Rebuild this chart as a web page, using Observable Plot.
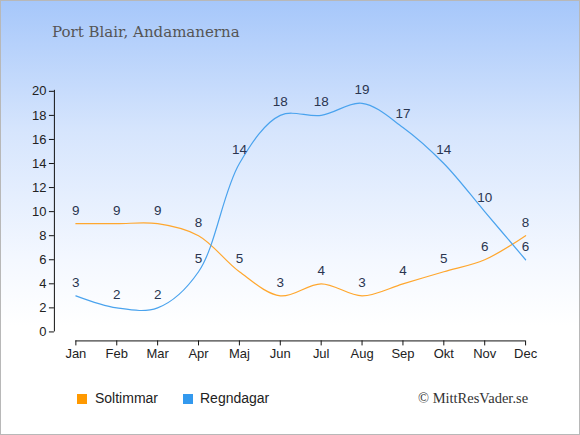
<!DOCTYPE html>
<html>
<head>
<meta charset="utf-8">
<script src="https://cdn.jsdelivr.net/npm/d3@7"></script>
<script src="https://cdn.jsdelivr.net/npm/@observablehq/plot@0.6"></script>
<style>
  html, body { margin: 0; padding: 0; }
  #wrap {
    position: relative; width: 580px; height: 435px; box-sizing: border-box;
    border: 1px solid #b8b8b8;
    background: linear-gradient(to bottom, #a6c7fa 0%, #d6e5fd 30%, #f4f8ff 60%, #ffffff 75%, #ffffff 100%);
    overflow: hidden;
  }
  #title {
    position: absolute; left: 51px; top: 22px;
    font-family: "DejaVu Serif", "Liberation Serif", serif; font-size: 15px; color: #555;
  }
  #chart { position: absolute; left: -1px; top: -1px; }
  #legend {
    position: absolute; left: 0; top: 388px; width: 580px; height: 20px;
    font-family: "Liberation Sans", Arial, sans-serif; font-size: 14px; color: #222;
  }
  .sw { position: absolute; width: 10px; height: 10px; top: 5px; }
  .lt { position: absolute; top: 1px; }
  #copy {
    position: absolute; left: 417px; top: 389px;
    font-family: "Liberation Serif", "DejaVu Serif", serif; font-size: 14.5px; color: #333;
  }
</style>
</head>
<body>
<div id="wrap">
  <div id="title">Port Blair, Andamanerna</div>
  <div id="chart"></div>
  <div id="legend">
    <div class="sw" style="left:76px;background:#ff9900"></div><div class="lt" style="left:94px">Soltimmar</div>
    <div class="sw" style="left:182px;background:#3399ee"></div><div class="lt" style="left:199px">Regndagar</div>
  </div>
  <div id="copy">© MittResVader.se</div>
</div>
<script>
const months = ["Jan","Feb","Mar","Apr","Maj","Jun","Jul","Aug","Sep","Okt","Nov","Dec"];
const sunHours = [9,9,9,8,5,3,4,3,4,5,6,8];
const rainDays = [3,2,2,5,14,18,18,19,17,14,10,6];
const yTicks = [0,2,4,6,8,10,12,14,16,18,20];

const sun = months.map((m,i) => ({month: m, value: sunHours[i]}));
const rain = months.map((m,i) => ({month: m, value: rainDays[i]}));

const labelFont = {fontSize: 13.5, fill: "#2a3550", fontFamily: "Liberation Sans, Arial, sans-serif"};

const chart = Plot.plot({
  width: 580,
  height: 435,
  marginLeft: 54,
  marginRight: 55,
  marginTop: 90,
  marginBottom: 94,
  style: {background: "transparent", fontFamily: "Liberation Sans, Arial, sans-serif", fontSize: "13px", color: "#222"},
  x: {type: "point", domain: months, range: [75.5, 526], padding: 0, round: false},
  y: {domain: [0, 20], range: [332, 91]},
  marks: [
    Plot.frame({anchor: "left", insetBottom: 10, stroke: "#111"}),
    Plot.frame({anchor: "bottom", insetLeft: 21.5, stroke: "#111"}),
    Plot.axisY({ticks: yTicks, tickSize: 5, tickPadding: 3, fontSize: 13, label: null, stroke: "#111"}),
    Plot.axisX({tickSize: 5, tickPadding: 3, fontSize: 13, label: null, stroke: "#111"}),
    Plot.line(sun, {x: "month", y: "value", stroke: "#ffa72e", strokeWidth: 1.2, curve: "catmull-rom"}),
    Plot.line(rain, {x: "month", y: "value", stroke: "#4aa3ee", strokeWidth: 1.2, curve: "catmull-rom"}),
    Plot.text(sun, {x: "month", y: "value", text: "value", dy: -13.5, ...labelFont}),
    Plot.text(rain, {x: "month", y: "value", text: "value", dy: -13.5, ...labelFont})
  ]
});
document.getElementById("chart").appendChild(chart);
</script>
</body>
</html>
